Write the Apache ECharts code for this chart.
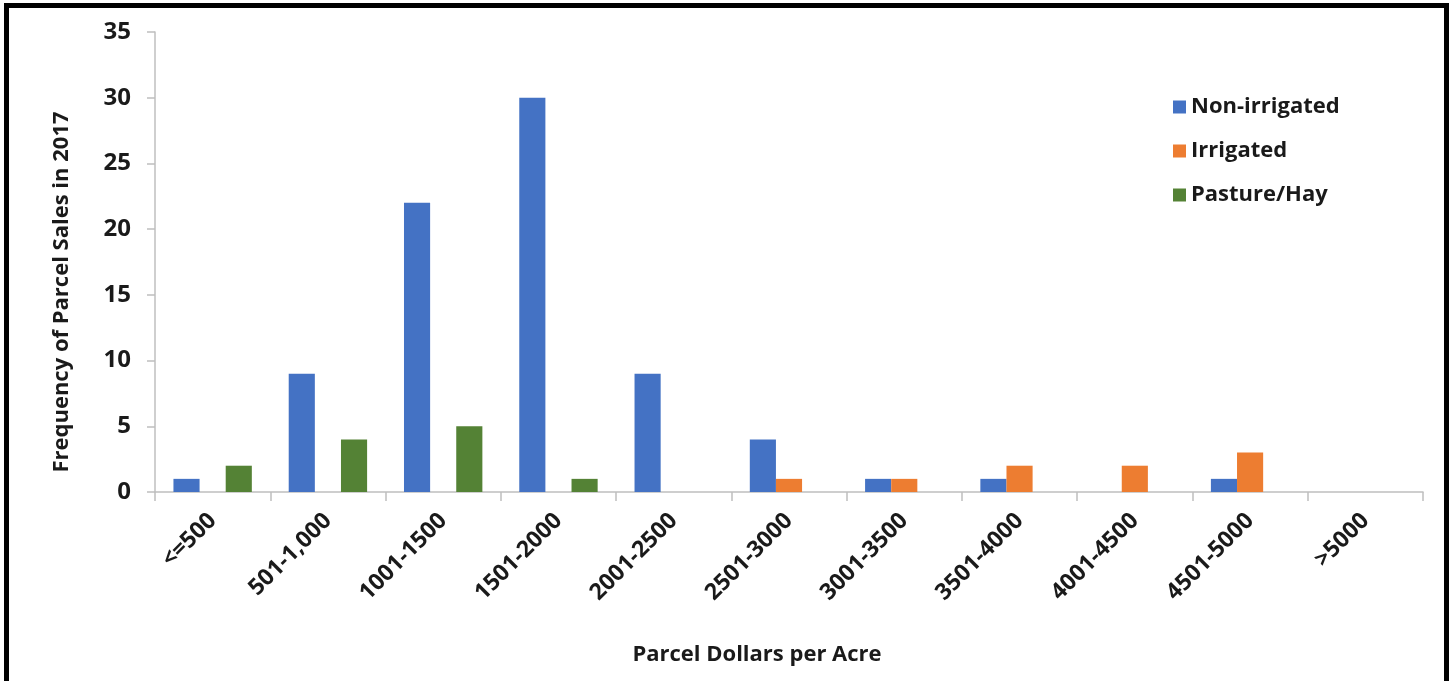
<!DOCTYPE html>
<html>
<head>
<meta charset="utf-8">
<script src="https://cdn.jsdelivr.net/npm/echarts@6/dist/echarts.min.js"></script>
<style>
  html, body { margin: 0; padding: 0; background: #fff; }
  #chart { position: absolute; left: 0; top: 0; width: 1451px; height: 681px; }
  /* black frame around the figure (open at the bottom edge) */
  #frame {
    position: absolute; left: 4px; top: 3px; width: 1435px; height: 700px;
    border: 5px solid #000; border-bottom: none; pointer-events: none;
  }
</style>
</head>
<body>
<div id="chart"></div>
<div id="frame"></div>
<script>
// Price bands (dollars per acre)
const categories = ['<=500', '501-1,000', '1001-1500', '1501-2000', '2001-2500', '2501-3000',
                    '3001-3500', '3501-4000', '4001-4500', '4501-5000', '>5000'];
// Parcel sale counts per band
const nonIrrigated = [1, 9, 22, 30, 9, 4, 1, 1, 0, 1, 0];
const irrigated    = [0, 0, 0, 0, 0, 1, 1, 2, 2, 3, 0];
const pastureHay   = [2, 4, 5, 1, 0, 0, 0, 0, 0, 0, 0];
const seriesNames  = ['Non-irrigated', 'Irrigated', 'Pasture/Hay'];

const FONT = '"Open Sans"';
const TEXT = '#1a1a1a';
const AXIS = '#bfbfbf';

const chart = echarts.init(document.getElementById('chart'));
chart.setOption({
  animation: false,
  backgroundColor: '#fff',
  color: ['#4472C4', '#ED7D31', '#548235'],
  grid: { left: 155, right: 28, top: 32, bottom: 189, containLabel: false },
  legend: {
    orient: 'vertical',
    left: 1168, top: 90,
    itemWidth: 13, itemHeight: 13, itemGap: 20,
    icon: 'rect',
    textStyle: { fontFamily: FONT, fontWeight: 'bold', fontSize: 22, lineHeight: 24, color: TEXT },
    data: seriesNames
  },
  xAxis: {
    type: 'category',
    data: categories,
    axisLine: { lineStyle: { color: AXIS, width: 1.5 } },
    axisTick: { show: true, length: 9, lineStyle: { color: AXIS, width: 1.5 } },
    axisLabel: {
      rotate: 45, margin: 25, interval: 0,
      fontFamily: FONT, fontWeight: 'bold', fontSize: 23, color: TEXT
    }
  },
  yAxis: {
    type: 'value',
    min: 0, max: 35, interval: 5,
    splitLine: { show: false },
    axisLine: { show: true, lineStyle: { color: AXIS, width: 1.5 } },
    axisTick: { show: true, length: 8, lineStyle: { color: AXIS, width: 1.5 } },
    axisLabel: { margin: 24, fontFamily: FONT, fontWeight: 'bold', fontSize: 24, color: TEXT }
  },
  graphic: [
    {
      type: 'text', x: 62, y: 292, rotation: Math.PI / 2,
      style: {
        text: 'Frequency of Parcel Sales in 2017',
        font: 'bold 22px ' + FONT, fill: TEXT,
        textAlign: 'center', textVerticalAlign: 'middle'
      }
    },
    {
      type: 'text', x: 757, y: 655,
      style: {
        text: 'Parcel Dollars per Acre',
        font: 'bold 22px ' + FONT, fill: TEXT,
        textAlign: 'center', textVerticalAlign: 'middle'
      }
    }
  ],
  series: [
    { name: seriesNames[0], type: 'bar', data: nonIrrigated, barGap: '0%', barCategoryGap: '32%' },
    { name: seriesNames[1], type: 'bar', data: irrigated,    barGap: '0%', barCategoryGap: '32%' },
    { name: seriesNames[2], type: 'bar', data: pastureHay,   barGap: '0%', barCategoryGap: '32%' }
  ]
});
</script>
</body>
</html>
